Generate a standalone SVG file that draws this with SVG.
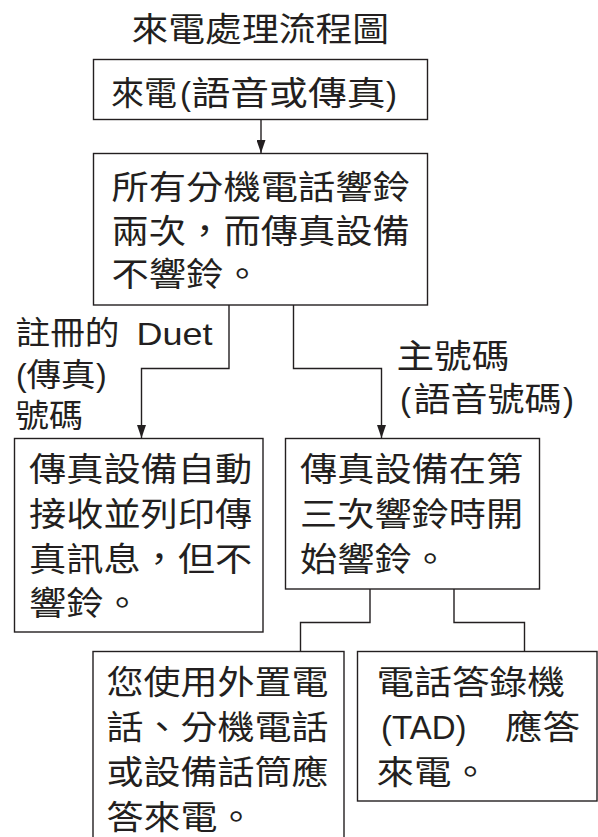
<svg xmlns="http://www.w3.org/2000/svg" width="598" height="837" viewBox="0 0 598 837">
<style>
.box{fill:#fff;stroke:#231f20;stroke-width:1.4}
.con{fill:none;stroke:#231f20;stroke-width:1.4}
text{font-family:"Liberation Sans","Noto Sans CJK TC",sans-serif;font-size:33px;fill:#231f20}
.s{font-size:32px}
</style>
<defs>
<marker id="arr" viewBox="0 0 13 9" refX="13" refY="4.5" markerWidth="13" markerHeight="9" markerUnits="userSpaceOnUse" orient="auto">
<path d="M0,0 L13,4.5 L0,9 z" fill="#231f20"/>
</marker>
</defs>
<rect width="598" height="837" fill="#fff"/>
<g id="title">
<text x="131.5" y="41" textLength="257.6" lengthAdjust="spacingAndGlyphs">來電處理流程圖</text>
</g>
<g id="connectors">
<path class="con" d="M261,119.5 V153" marker-end="url(#arr)"/>
<path class="con" d="M229,305 V368.5 H141.5 V438" marker-end="url(#arr)"/>
<path class="con" d="M293.5,305 V368.5 H381.5 V438" marker-end="url(#arr)"/>
<path class="con" d="M370,589 V622.5 H300.5 V651.5"/>
<path class="con" d="M454,589 V622.5 H524.5 V651.5"/>
</g>
<g id="n1">
<rect class="box" x="93.5" y="59.5" width="334" height="60"/>
<text x="111" y="105" textLength="66" lengthAdjust="spacingAndGlyphs">來電</text>
<text x="180" y="105">(</text>
<text x="191.5" y="105" textLength="194" lengthAdjust="spacingAndGlyphs">語音或傳真</text>
<text x="386" y="105">)</text>
</g>
<g id="n2">
<rect class="box" x="93.5" y="153.5" width="334" height="151.5"/>
<text x="111.5" y="199" textLength="298.4" lengthAdjust="spacingAndGlyphs">所有分機電話響鈴</text>
<text x="111.5" y="243" textLength="298.4" lengthAdjust="spacingAndGlyphs">兩次，而傳真設備</text>
<text x="111.5" y="286" textLength="149.2" lengthAdjust="spacingAndGlyphs">不響鈴。</text>
</g>
<g id="label-left">
<text class="s" x="15.5" y="344" textLength="104" lengthAdjust="spacingAndGlyphs">註冊的</text>
<text class="s" x="136.5" y="345" textLength="76" lengthAdjust="spacingAndGlyphs">Duet</text>
<text class="s" x="16" y="386">(</text>
<text class="s" x="26.5" y="386" textLength="69" lengthAdjust="spacingAndGlyphs">傳真</text>
<text class="s" x="96" y="386">)</text>
<text class="s" x="15" y="427" textLength="68" lengthAdjust="spacingAndGlyphs">號碼</text>
</g>
<g id="label-right">
<text x="396.5" y="368" textLength="112.8" lengthAdjust="spacingAndGlyphs">主號碼</text>
<text x="400" y="411">(</text>
<text x="413.5" y="411" textLength="148" lengthAdjust="spacingAndGlyphs">語音號碼</text>
<text x="563" y="411">)</text>
</g>
<g id="n3">
<rect class="box" x="14.5" y="438.5" width="248.5" height="193.5"/>
<text x="29" y="481" textLength="223.2" lengthAdjust="spacingAndGlyphs">傳真設備自動</text>
<text x="29" y="526" textLength="223.2" lengthAdjust="spacingAndGlyphs">接收並列印傳</text>
<text x="29" y="571" textLength="223.2" lengthAdjust="spacingAndGlyphs">真訊息，但不</text>
<text x="29" y="615" textLength="111.6" lengthAdjust="spacingAndGlyphs">響鈴。</text>
</g>
<g id="n4">
<rect class="box" x="285.5" y="438.5" width="254" height="150.5"/>
<text x="300" y="481" textLength="223.2" lengthAdjust="spacingAndGlyphs">傳真設備在第</text>
<text x="300" y="526" textLength="223.2" lengthAdjust="spacingAndGlyphs">三次響鈴時開</text>
<text x="300" y="571" textLength="148.8" lengthAdjust="spacingAndGlyphs">始響鈴。</text>
</g>
<g id="n5">
<rect class="box" x="93" y="651.5" width="251" height="200"/>
<text x="106.5" y="694" textLength="222" lengthAdjust="spacingAndGlyphs">您使用外置電</text>
<text x="106.5" y="739" textLength="222" lengthAdjust="spacingAndGlyphs">話、分機電話</text>
<text x="106.5" y="784" textLength="222" lengthAdjust="spacingAndGlyphs">或設備話筒應</text>
<text x="106.5" y="829" textLength="148" lengthAdjust="spacingAndGlyphs">答來電。</text>
</g>
<g id="n6">
<rect class="box" x="357.5" y="651.5" width="239.5" height="149.5"/>
<text x="376.5" y="694" textLength="188.5" lengthAdjust="spacingAndGlyphs">電話答錄機</text>
<text x="381" y="739">(TAD)</text>
<text x="505" y="739" textLength="75" lengthAdjust="spacingAndGlyphs">應答</text>
<text x="376.5" y="784" textLength="112.5" lengthAdjust="spacingAndGlyphs">來電。</text>
</g>
</svg>
